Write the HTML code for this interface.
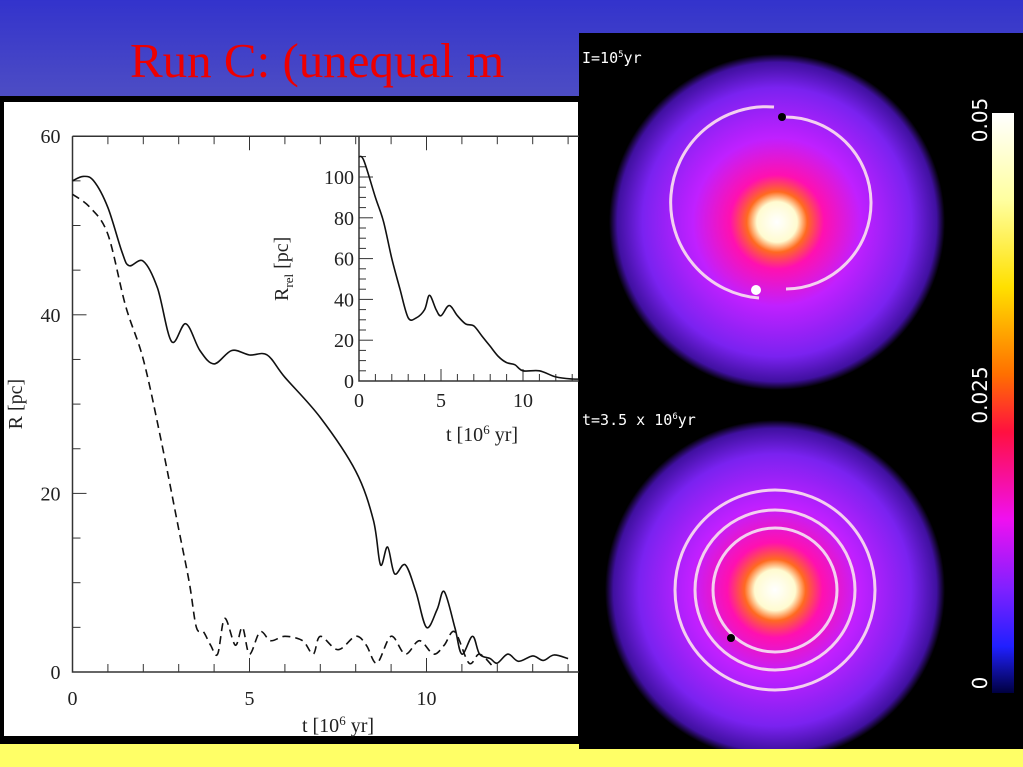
<!DOCTYPE html>
<html><head><meta charset="utf-8">
<style>
html,body{margin:0;padding:0;}
body{width:1023px;height:767px;position:relative;overflow:hidden;background:#ffff66;font-family:"Liberation Serif",serif;}
#top{position:absolute;left:0;top:0;width:1023px;height:96px;background:linear-gradient(#3333cc,#4d4dc4);}
#title{position:absolute;left:130px;top:32px;font-size:49px;color:#ee0000;white-space:nowrap;}
#plotwrap{position:absolute;left:0;top:96px;width:585px;height:648px;background:#000;}
#right{position:absolute;left:579px;top:33px;width:444px;height:716px;background:#000;overflow:hidden;}
.lbl{position:absolute;color:#fff;font-family:"DejaVu Sans Mono",monospace;font-size:15px;}
</style></head><body>
<div id="top"></div>
<div id="title">Run C: (unequal m</div>
<div id="plotwrap">
<svg id="plot" width="585" height="648" style="position:absolute;left:0;top:0"></svg>
</div>
<div id="right">
<svg width="444" height="716">
<defs>
<radialGradient id="d1" cx="50%" cy="50%" r="50%">
<stop offset="0" stop-color="#fff"/><stop offset="0.12" stop-color="#fffbd0"/><stop offset="0.18" stop-color="#ff6a20"/><stop offset="0.28" stop-color="#ff10b0"/><stop offset="0.5" stop-color="#c020ff"/><stop offset="0.8" stop-color="#7a22f0"/><stop offset="0.95" stop-color="#4010a0"/><stop offset="1" stop-color="#000"/>
</radialGradient>
<linearGradient id="cb" x1="0" y1="0" x2="0" y2="1">
<stop offset="0" stop-color="#ffffff"/><stop offset="0.15" stop-color="#ffffa0"/><stop offset="0.3" stop-color="#ffe000"/><stop offset="0.45" stop-color="#ff7000"/><stop offset="0.55" stop-color="#ff1040"/><stop offset="0.7" stop-color="#f010f0"/><stop offset="0.82" stop-color="#8020ff"/><stop offset="0.92" stop-color="#2020ff"/><stop offset="1" stop-color="#000040"/>
</linearGradient>
</defs>
<g>
<circle cx="198" cy="189" r="168" fill="url(#d1)"/>
<path d="M195 74 A 83 83 0 1 0 180 265" stroke="#f4d0f0" stroke-width="3" fill="none"/>
<path d="M205 84 A 80 80 0 0 1 207 256" stroke="#f4d0f0" stroke-width="3" fill="none"/>
<circle cx="203" cy="84" r="4" fill="#000"/><circle cx="177" cy="257" r="5" fill="#fff"/>
</g>
<g>
<circle cx="196" cy="557" r="170" fill="url(#d1)"/>
<circle cx="196" cy="557" r="62" fill="none" stroke="#f4d0f0" stroke-width="3"/>
<circle cx="196" cy="557" r="80" fill="none" stroke="#f4d0f0" stroke-width="3"/>
<circle cx="196" cy="557" r="100" fill="none" stroke="#f4d0f0" stroke-width="3"/>
<circle cx="152" cy="605" r="4" fill="#000"/>
</g>
<rect x="413" y="80" width="22" height="580" fill="url(#cb)"/>
<text x="408" y="87" fill="#fff" font-family="DejaVu Sans" font-size="20" transform="rotate(-90 408 87)" text-anchor="middle">0.05</text>
<text x="408" y="362" fill="#fff" font-family="DejaVu Sans" font-size="20" transform="rotate(-90 408 362)" text-anchor="middle">0.025</text>
<text x="408" y="650" fill="#fff" font-family="DejaVu Sans" font-size="20" transform="rotate(-90 408 650)" text-anchor="middle">0</text>
</svg>
<div class="lbl" style="left:3px;top:16px">I=10<sup style="font-size:9px">5</sup>yr</div>
<div class="lbl" style="left:3px;top:378px">t=3.5 x 10<sup style="font-size:9px">6</sup>yr</div>
</div>
<script>
const solidT=[0,0.3,0.6,1,1.4,1.6,2,2.4,2.8,3.2,3.6,4,4.5,5,5.5,6,7,8,8.5,8.7,8.9,9.1,9.4,9.7,10,10.3,10.5,10.8,11,11.3,11.5,11.8,12,12.3,12.6,13,13.3,13.6,14];
const solidR=[55,55.5,55,52,47,45.5,46,43,37,39,36,34.5,36,35.5,35.5,33,28.5,22.5,17,12,14,11,12,9,5,7,9,5,2,4,2,1.5,1,2,1.2,1.8,1.3,1.9,1.5];
const dashT=[0,0.5,1,1.5,2,2.5,3,3.3,3.5,3.7,3.9,4.1,4.3,4.6,4.8,5,5.3,5.6,6,6.5,6.8,7,7.5,8,8.3,8.6,9,9.4,9.8,10.2,10.5,10.8,11.2,11.5,11.9];
const dashR=[53.5,52,49,41,35,26,16,10,5,4.5,3,2,6,3,5,2,4.5,3.5,4,3.5,2,4,2.5,4,3,1,4,2,3.5,2,3,4.5,1,2,0.5];
const insetT=[0,0.3,1,1.5,2,2.5,3,3.5,4,4.3,4.7,5,5.5,6,6.5,7,7.5,8,8.5,9,9.5,10,11,12,13,14];
const insetR=[110,108,90,78,60,45,31,31,35,42,35,32,37,32,28,27,22,17,12,9,8,5,5,2,1,1];
const mainXTicks=[0,5,10];
const mainYTicks=[0,20,40,60];
const insetXTicks=[0,5,10];
const insetYTicks=[0,20,40,60,80,100];
const NS="http://www.w3.org/2000/svg";
const svg=document.getElementById('plot');
const OY=96;
function mk(t,a,p){const e=document.createElementNS(NS,t);for(const k in a)e.setAttribute(k,a[k]);(p||svg).appendChild(e);return e;}
const mx=t=>72.5+t*35.4;
const my=r=>672-OY-r*8.93;
const ix=t=>359+t*16.4;
const iy=r=>381-OY-r*2.04;
const bg=mk('rect',{x:4,y:6,width:574,height:634,fill:'#fff'});


const frame=mk('path',{d:`M${mx(0)} ${my(60)} H585 M${mx(0)} ${my(60)} V${my(0)} H585`,stroke:'#333',fill:'none','stroke-width':1.5});


for(let t=0;t<=14;t++){const L=t%5==0?14:8;mk('line',{x1:mx(t),x2:mx(t),y1:my(0),y2:my(0)-L,stroke:'#333'});mk('line',{x1:mx(t),x2:mx(t),y1:my(60),y2:my(60)+L,stroke:'#333'});}
for(let r=0;r<=60;r+=5){const L=r%20==0?14:8;mk('line',{x1:mx(0),x2:mx(0)+L,y1:my(r),y2:my(r),stroke:'#333'});}
mainXTicks.forEach(v=>{const e=mk('text',{x:mx(v),y:my(0)+33,'text-anchor':'middle','font-size':20,'font-family':'Liberation Serif',fill:'#222'});e.textContent=v;

});
mainYTicks.forEach(v=>{const e=mk('text',{x:mx(0)-12,y:my(v)+7,'text-anchor':'end','font-size':20,'font-family':'Liberation Serif',fill:'#222'});e.textContent=v;

});
const xt=mk('text',{x:mx(7.5),y:my(0)+60,'text-anchor':'middle','font-size':20,'font-family':'Liberation Serif',fill:'#222'});
xt.innerHTML='t [10<tspan font-size="13" dy="-7">6</tspan><tspan dy="7"> yr]</tspan>';


const yt=mk('text',{x:22,y:my(30),'text-anchor':'middle','font-size':20,'font-family':'Liberation Serif',fill:'#222',transform:`rotate(-90 22 ${my(30)})`});
yt.textContent='R [pc]';


function line(T,R,fx,fy,dash,name){
const P=T.map((t,i)=>[fx(t),fy(R[i])]);
let d='M'+P[0][0].toFixed(1)+' '+P[0][1].toFixed(1);
for(let i=0;i<P.length-1;i++){const p0=P[i-1]||P[i],p1=P[i],p2=P[i+1],p3=P[i+2]||p2;
const c1=[p1[0]+(p2[0]-p0[0])/6,p1[1]+(p2[1]-p0[1])/6],c2=[p2[0]-(p3[0]-p1[0])/6,p2[1]-(p3[1]-p1[1])/6];
d+=` C${c1[0].toFixed(1)} ${c1[1].toFixed(1)} ${c2[0].toFixed(1)} ${c2[1].toFixed(1)} ${p2[0].toFixed(1)} ${p2[1].toFixed(1)}`;}
const e=mk('path',{d:d,stroke:'#111',fill:'none','stroke-width':1.6,'stroke-dasharray':dash||'none','stroke-linejoin':'round'});

}
const ib=mk('path',{d:`M${ix(0)} ${my(60)} V${iy(0)} H585`,stroke:'#333',fill:'none','stroke-width':1.5});


for(let t=0;t<=14;t++){const L=t%5==0?12:7;mk('line',{x1:ix(t),x2:ix(t),y1:iy(0),y2:iy(0)-L,stroke:'#333'});}
for(let r=0;r<=110;r+=5){const L=r%20==0?14:7;mk('line',{x1:ix(0),x2:ix(0)+L,y1:iy(r),y2:iy(r),stroke:'#333'});}
insetXTicks.forEach(v=>{const e=mk('text',{x:ix(v),y:iy(0)+26,'text-anchor':'middle','font-size':20,'font-family':'Liberation Serif',fill:'#222'});e.textContent=v;

});
insetYTicks.forEach(v=>{const e=mk('text',{x:ix(0)-5,y:iy(v)+7,'text-anchor':'end','font-size':20,'font-family':'Liberation Serif',fill:'#222'});e.textContent=v;

});
const ixt=mk('text',{x:ix(7.5),y:iy(0)+60,'text-anchor':'middle','font-size':20,'font-family':'Liberation Serif',fill:'#222'});
ixt.innerHTML='t [10<tspan font-size="13" dy="-7">6</tspan><tspan dy="7"> yr]</tspan>';


const iyt=mk('text',{x:288,y:iy(55),'text-anchor':'middle','font-size':20,'font-family':'Liberation Serif',fill:'#222',transform:`rotate(-90 288 ${iy(55)})`});
iyt.innerHTML='R<tspan font-size="13" dy="5">rel</tspan><tspan dy="-5"> [pc]</tspan>';


line(solidT,solidR,mx,my,null,'solid-series');
line(dashT,dashR,mx,my,'8 5','dashed-series');
line(insetT,insetR,ix,iy,null,'inset-series');
</script>
</body></html>
